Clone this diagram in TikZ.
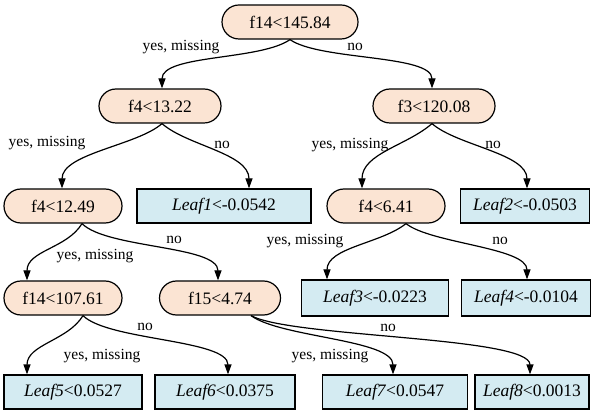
\documentclass[tikz,border=0pt]{standalone}
\usepackage{fontspec}
\setmainfont{Liberation Serif}
\usetikzlibrary{arrows.meta}
\definecolor{splitfill}{RGB}{251,228,211}
\definecolor{leaffill}{RGB}{212,235,242}
\tikzset{
  split/.style={draw, line width=1.2pt, rounded corners=17pt, fill=splitfill,
    minimum height=34pt, inner sep=0pt, font=\fontsize{17.5}{20}\selectfont},
  leaf/.style={draw, line width=1.2pt, fill=leaffill,
    minimum height=34pt, inner sep=0pt, font=\fontsize{17.5}{20}\selectfont},
  lbl/.style={inner sep=0pt, font=\fontsize{15.5}{18}\selectfont},
  edge/.style={line width=1.2pt, -{Triangle[length=10pt,width=7pt]}},
}
\begin{document}
\begin{tikzpicture}[x=1pt,y=-1pt]
\useasboundingbox (0,0) rectangle (591,411);
% splits
\node[split, minimum width=136pt] (s0) at (290,22) {f14<145.84};
\node[split, minimum width=122pt] (s1) at (160,106) {f4<13.22};
\node[split, minimum width=122pt] (s2) at (434,106) {f3<120.08};
\node[split, minimum width=118pt] (s3) at (63,206) {f4<12.49};
\node[split, minimum width=118pt] (s4) at (386,206) {f4<6.41};
\node[split, minimum width=118pt] (s5) at (63,298) {f14<107.61};
\node[split, minimum width=121pt] (s6) at (220,298) {f15<4.74};

% leaves
\node[leaf, minimum width=174pt] (leaf1) at (224,206) {\textit{Leaf1}<-0.0542};
\node[leaf, minimum width=129pt] (leaf2) at (525,206) {\textit{Leaf2}<-0.0503};
\node[leaf, minimum width=147pt, minimum height=36pt] (leaf3) at (375,298) {\textit{Leaf3}<-0.0223};
\node[leaf, minimum width=129pt, minimum height=36pt] (leaf4) at (526,298) {\textit{Leaf4}<-0.0104};
\node[leaf, minimum width=138pt] (leaf5) at (73,392) {\textit{Leaf5}<0.0527};
\node[leaf, minimum width=140pt] (leaf6) at (225,392) {\textit{Leaf6}<0.0375};
\node[leaf, minimum width=145pt] (leaf7) at (395,392) {\textit{Leaf7}<0.0547};
\node[leaf, minimum width=114pt] (leaf8) at (532,392) {\textit{Leaf8}<0.0013};

% edges
\draw[edge] (s0.south) .. controls +(-30,21) and +(0,-34) .. ([xshift=2pt]s1.north);
\draw[edge] (s0.south) .. controls +(30,21) and +(0,-34) .. ([xshift=-2pt]s2.north);
\draw[edge] ([xshift=2pt]s1.south) .. controls +(-25,22) and +(0,-35) .. ([xshift=-1pt]s3.north);
\draw[edge] ([xshift=2pt]s1.south) .. controls +(25,22) and +(0,-35) .. ([xshift=25pt]leaf1.north);
\draw[edge] ([xshift=-2pt]s2.south) .. controls +(-25,22) and +(0,-35) .. ([xshift=-24pt]s4.north);
\draw[edge] ([xshift=-2pt]s2.south) .. controls +(25,22) and +(0,-35) .. ([xshift=2pt]leaf2.north);
\draw[edge] ([xshift=20pt]s4.south) .. controls +(-25,20) and +(0,-32) .. ([xshift=-48pt]leaf3.north);
\draw[edge] ([xshift=20pt]s4.south) .. controls +(25,20) and +(0,-32) .. ([xshift=1pt]leaf4.north);
\draw[edge] ([xshift=19pt]s3.south) .. controls +(-15,25) and +(0,-30) .. ([xshift=-36pt]s5.north);
\draw[edge] ([xshift=19pt]s3.south) .. controls +(25,25) and +(0,-35) .. ([xshift=-2pt]s6.north);
\draw[edge] ([xshift=20pt]s5.south) .. controls +(-15,25) and +(0,-30) .. ([xshift=-46pt]leaf5.north);
\draw[edge] ([xshift=20pt]s5.south) .. controls +(25,25) and +(0,-35) .. ([xshift=3pt]leaf6.north);
\draw[edge] ([xshift=31pt]s6.south) .. controls +(30,22) and +(0,-35) .. ([xshift=-2pt]leaf7.north);
\draw[edge] ([xshift=31pt]s6.south) .. controls +(40,22) and +(0,-38) .. ([xshift=-2pt]leaf8.north);

% edge labels
\node[lbl] (y0) at (181,47) {yes, missing};
\node[lbl] (n0) at (355,47) {no};
\node[lbl] (y1) at (47,143) {yes, missing};
\node[lbl] (n1) at (222,145) {no};
\node[lbl] (y2) at (350,145) {yes, missing};
\node[lbl] (n2) at (493,145) {no};
\node[lbl] (y4) at (305,241) {yes, missing};
\node[lbl] (n4) at (500,241) {no};
\node[lbl] (y3) at (95,256) {yes, missing};
\node[lbl] (n3) at (174,240) {no};
\node[lbl] (y5) at (102,356) {yes, missing};
\node[lbl] (n5) at (145,327) {no};
\node[lbl] (y6) at (330,356) {yes, missing};
\node[lbl] (n6) at (388,328) {no};
\end{tikzpicture}
\end{document}
